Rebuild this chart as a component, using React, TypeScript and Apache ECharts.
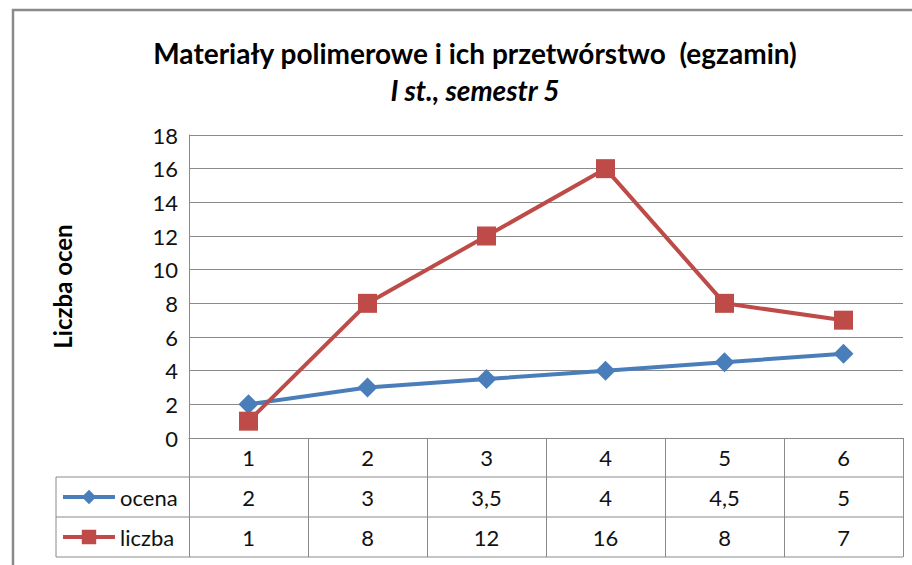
import React, { useEffect, useRef } from "react";
import * as echarts from "echarts";

const categories = ["1", "2", "3", "4", "5", "6"];
const ocena = [2, 3, 3.5, 4, 4.5, 5];
const liczba = [1, 8, 12, 16, 8, 7];
const seriesNames = ["ocena", "liczba"];
const titleText = "Materiały polimerowe i ich przetwórstwo  (egzamin)";
const subtitleText = "I st., semestr 5";
const yAxisName = "Liczba ocen";

const FONT = "Lato, 'Open Sans', sans-serif";
const GRAY = "#8a8a8a";
const BLUE = "#4a7ebb";
const RED = "#be4b48";

const fmt = (v: number) => String(v).replace(".", ",");

export default function App() {
  const ref = useRef<HTMLDivElement>(null);
  useEffect(() => {
    if (!ref.current) return;
    const chart = echarts.init(ref.current, undefined, { renderer: "svg" });
    const labelBase = {
      fontSize: 22,
      color: "#111",
      fontFamily: FONT,
      verticalAlign: "middle" as const,
      margin: 19,
      interval: 0,
    };
    chart.setOption({
      animation: false,
      backgroundColor: "#fff",
      title: {
        text: titleText,
        subtext: subtitleText,
        left: 470,
        textAlign: "center",
        top: 34,
        itemGap: 9,
        textStyle: { fontSize: 28, fontWeight: "bold", color: "#000", fontFamily: FONT },
        subtextStyle: {
          fontSize: 28,
          fontWeight: "bold",
          fontStyle: "italic",
          color: "#000",
          fontFamily: FONT,
        },
      },
      legend: {
        data: seriesNames,
        orient: "vertical",
        left: 61,
        top: 486,
        padding: 0,
        itemWidth: 52,
        itemHeight: 18,
        itemGap: 18,
        lineStyle: { width: 4 },
        textStyle: { fontSize: 22, color: "#111", fontFamily: FONT, lineHeight: 22 },
      },
      grid: { left: 189, right: 9, top: 135, bottom: 127, containLabel: false },
      xAxis: [
        {
          type: "category",
          data: categories,
          position: "bottom",
          boundaryGap: true,
          axisLine: { show: true, lineStyle: { color: GRAY, width: 1 } },
          axisTick: { show: true, length: 119, lineStyle: { color: GRAY, width: 1 } },
          axisLabel: labelBase,
        },
        {
          type: "category",
          data: ocena.map(fmt),
          position: "bottom",
          offset: 40,
          axisLine: { show: false },
          axisTick: { show: false },
          axisLabel: labelBase,
        },
        {
          type: "category",
          data: liczba.map(fmt),
          position: "bottom",
          offset: 80,
          axisLine: { show: false },
          axisTick: { show: false },
          axisLabel: labelBase,
        },
      ],
      yAxis: {
        type: "value",
        min: 0,
        max: 18,
        interval: 2,
        name: yAxisName,
        nameLocation: "middle",
        nameGap: 115,
        nameRotate: 90,
        nameTextStyle: { fontSize: 24, fontWeight: "bold", color: "#000", fontFamily: FONT },
        axisLine: { show: true, lineStyle: { color: GRAY, width: 1 } },
        axisTick: { show: false },
        axisLabel: { fontSize: 22, color: "#111", fontFamily: FONT, margin: 11 },
        splitLine: { show: true, lineStyle: { color: GRAY, width: 1 } },
      },
      series: [
        {
          name: seriesNames[0],
          type: "line",
          data: ocena,
          symbol: "diamond",
          symbolSize: 20,
          lineStyle: { color: BLUE, width: 4 },
          itemStyle: { color: BLUE },
        },
        {
          name: seriesNames[1],
          type: "line",
          data: liczba,
          symbol: "rect",
          symbolSize: 19,
          lineStyle: { color: RED, width: 4 },
          itemStyle: { color: RED },
        },
      ],
      graphic: [
        {
          type: "rect",
          shape: { x: 13, y: 10, width: 1000, height: 1000 },
          style: { fill: "none", stroke: GRAY, lineWidth: 2.5 },
          silent: true,
        },
        { type: "line", shape: { x1: 56, y1: 477, x2: 903, y2: 477 }, style: { stroke: GRAY, lineWidth: 1 } },
        { type: "line", shape: { x1: 56, y1: 517, x2: 903, y2: 517 }, style: { stroke: GRAY, lineWidth: 1 } },
        { type: "line", shape: { x1: 56, y1: 557, x2: 903, y2: 557 }, style: { stroke: GRAY, lineWidth: 1 } },
        { type: "line", shape: { x1: 56, y1: 477, x2: 56, y2: 557 }, style: { stroke: GRAY, lineWidth: 1 } },
      ],
    });
    return () => chart.dispose();
  }, []);
  return (
    <div
      ref={ref}
      style={{ position: "fixed", left: 0, top: 0, width: 912, height: 565 }}
    />
  );
}
